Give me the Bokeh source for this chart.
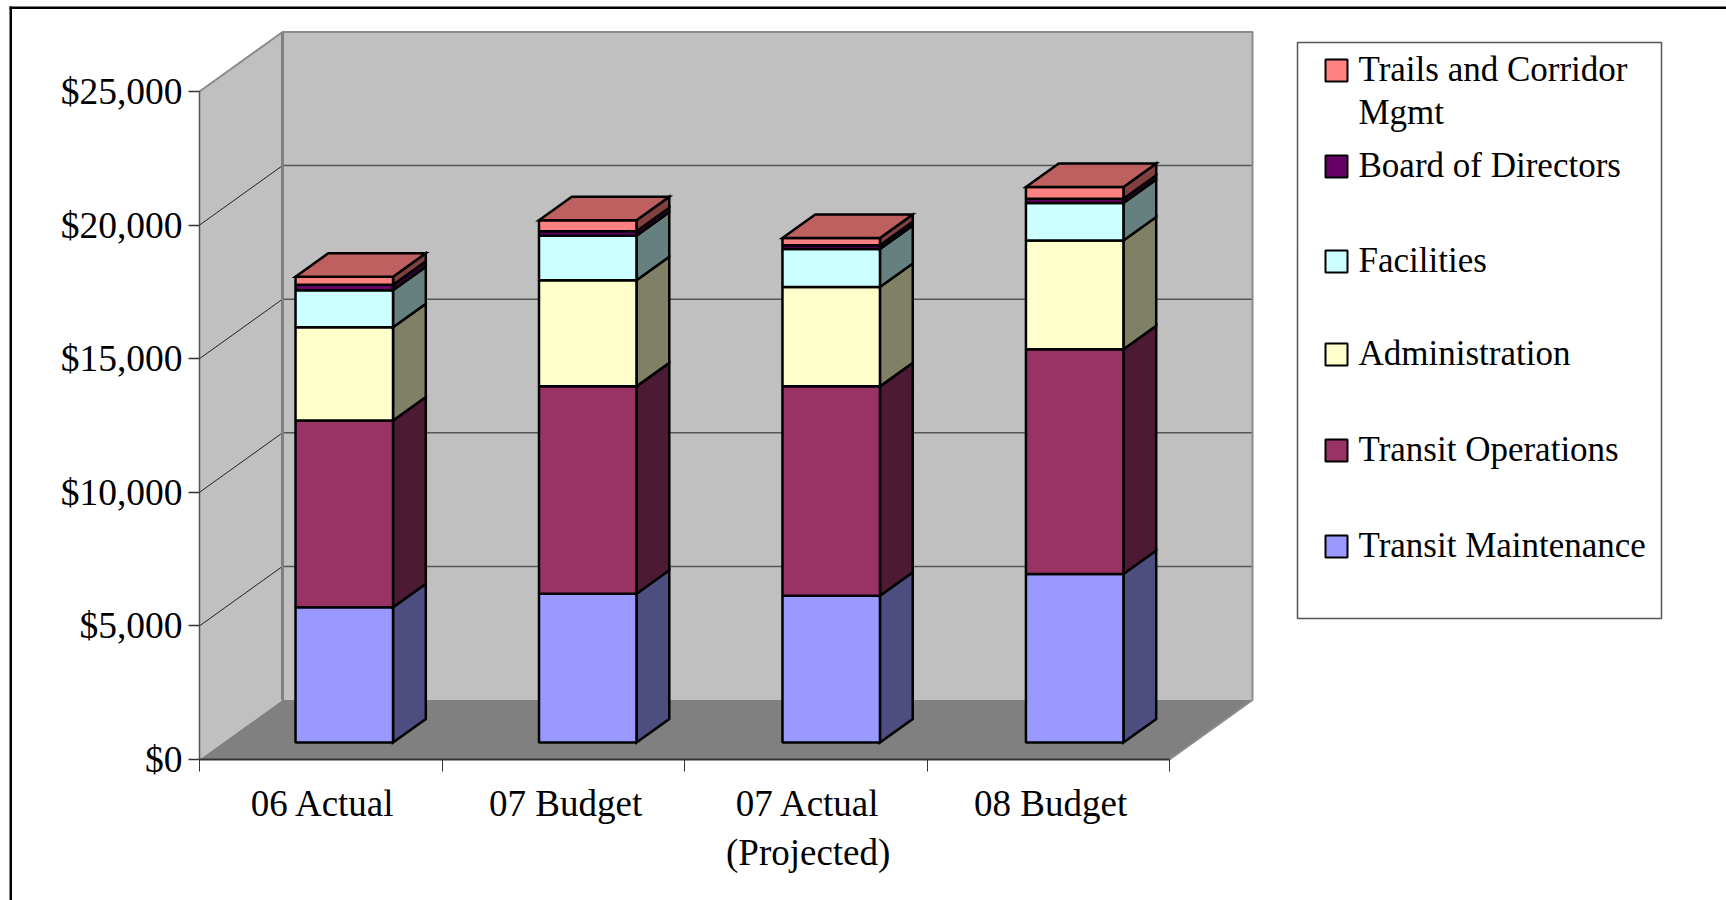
from bokeh.plotting import figure
from bokeh.models import Range1d, FixedTicker, NumeralTickFormatter, BoxAnnotation
from bokeh.core.properties import value
from bokeh.embed import file_html
from bokeh.resources import INLINE

categories = ["06 Actual", "07 Budget", "07 Actual\n(Projected)", "08 Budget"]
y_ticks = [0, 5000, 10000, 15000, 20000, 25000]

series_names = ["Transit Maintenance", "Transit Operations", "Administration",
                "Facilities", "Board of Directors", "Trails and Corridor\nMgmt"]
transit_maintenance = [5060, 5570, 5490, 6310]
transit_operations = [6990, 7760, 7840, 8410]
administration = [3490, 3970, 3720, 4070]
facilities = [1385, 1670, 1420, 1400]
board_of_directors = [210, 165, 140, 160]
trails_and_corridor = [300, 410, 270, 440]
series_values = [transit_maintenance, transit_operations, administration,
                 facilities, board_of_directors, trails_and_corridor]
front_colors = ["#9999FF", "#993366", "#FFFFCC", "#CCFFFF", "#660066", "#FF8080"]
side_colors = ["#4D4D80", "#4D1A33", "#808066", "#668080", "#330033", "#804040"]
top_color = "#BF6060"

# page geometry (px)
W, H = 1726, 900
X0, Y0 = 199, 759          # front-left corner of the chart's floor
CAT_PX = 242.5             # px per category
USD_PER_PX = 5000 / 133.6
DEPTH_X = 83 / CAT_PX      # full chart depth, in category units
DEPTH_Y = 59.5 * USD_PER_PX  # full chart depth, in dollars
WALL_RIGHT = 4 + DEPTH_X
WALL_TOP = 25000
BAR_LEFT, BAR_WIDTH, BAR_STEP = 0.396, 0.402, 1.004
D0, D1 = 0.285, 0.68       # bar's front and back, as a share of chart depth


def X(px):
    return (px - X0) / CAT_PX


def Y(py):
    return (Y0 - py) * USD_PER_PX


p = figure(width=W, height=H, output_backend="svg", toolbar_location=None,
           x_range=Range1d(X(0), X(W)), y_range=Range1d(Y(H), Y(0)),
           min_border=0, outline_line_color=None)
p.grid.visible = False

# walls and floor
p.patch([0, DEPTH_X, DEPTH_X, 0], [0, DEPTH_Y, WALL_TOP + DEPTH_Y, WALL_TOP],
        fill_color="#C0C0C0", line_color=None)
p.quad(left=DEPTH_X, right=WALL_RIGHT, bottom=DEPTH_Y, top=WALL_TOP + DEPTH_Y,
       fill_color="#C0C0C0", line_color=None)
p.patch([0, 4, WALL_RIGHT, DEPTH_X], [0, 0, DEPTH_Y, DEPTH_Y],
        fill_color="#808080", line_color=None)

# gridlines
grid = [t for t in y_ticks if t not in (0, WALL_TOP)]
p.multi_line([[DEPTH_X, WALL_RIGHT] for t in grid], [[t + DEPTH_Y, t + DEPTH_Y] for t in grid],
             line_color="#555555", line_width=1.5)
p.multi_line([[0, DEPTH_X] for t in grid], [[t, t + DEPTH_Y] for t in grid],
             line_color="#222222", line_width=1)
# wall edges
p.line([0, DEPTH_X, WALL_RIGHT, WALL_RIGHT, 4],
       [WALL_TOP, WALL_TOP + DEPTH_Y, WALL_TOP + DEPTH_Y, DEPTH_Y, 0],
       line_color="#8C8C8C", line_width=2)
p.line([DEPTH_X, DEPTH_X], [DEPTH_Y, WALL_TOP + DEPTH_Y], line_color="#808080", line_width=3)
p.line([0, 0], [0, WALL_TOP], line_color="#555555", line_width=1.5)

# stacked 3D bars
for i in range(len(categories)):
    base = 0
    xf = i * BAR_STEP + BAR_LEFT
    lo = D0 * DEPTH_Y
    hi = D1 * DEPTH_Y
    xr = xf + BAR_WIDTH
    dxb = (D1 - D0) * DEPTH_X
    for s, vals in enumerate(series_values):
        v0, v1 = base, base + vals[i]
        p.patch([xr, xr + dxb, xr + dxb, xr], [v0 + lo, v0 + hi, v1 + hi, v1 + lo],
                fill_color=side_colors[s], line_color="black", line_width=2.5, line_join="miter")
        p.quad(left=xf, right=xr, bottom=v0 + lo, top=v1 + lo,
               fill_color=front_colors[s], line_color="black", line_width=2.5)
        base = v1
    p.patch([xf, xr, xr + dxb, xf + dxb],
            [base + lo, base + lo, base + hi, base + hi],
            fill_color=top_color, line_color="black", line_width=2.5, line_join="miter")

# axes
ya = p.yaxis[0]
ya.fixed_location = 0
ya.ticker = FixedTicker(ticks=y_ticks)
ya.bounds = (0, WALL_TOP)
ya.formatter = NumeralTickFormatter(format="$0,0")
ya.major_label_text_font = "Liberation Serif"
ya.major_label_text_font_size = "37.5px"
ya.major_label_text_color = "black"
ya.major_tick_in = 0
ya.major_tick_out = 11
ya.major_tick_line_color = "#333333"
ya.major_tick_line_width = 1.5
ya.minor_tick_line_color = None
ya.axis_line_color = None
ya.major_label_standoff = 6

xa = p.xaxis[0]
xa.fixed_location = 0
xa.ticker = FixedTicker(ticks=[i + 0.51 for i in range(len(categories))],
                        minor_ticks=list(range(len(categories) + 1)))
xa.bounds = (0, len(categories))
xa.major_label_overrides = {i + 0.51: c for i, c in enumerate(categories)}
xa.major_label_text_font = "Liberation Serif"
xa.major_label_text_font_size = "37px"
xa.major_label_text_color = "black"
xa.major_tick_in = 0
xa.major_tick_out = 0
xa.minor_tick_in = 0
xa.minor_tick_out = 12
xa.minor_tick_line_color = "#333333"
xa.minor_tick_line_width = 1
xa.axis_line_color = "#333333"
xa.axis_line_width = 2
xa.major_label_standoff = 11

# legend
p.quad(left=X(1297), right=X(1661), bottom=Y(618), top=Y(42),
       fill_color="white", line_color="#555555", line_width=1.5)
row_py = [546, 450, 354, 261, 166, 70]
for s, name in enumerate(series_names):
    py = row_py[s]
    p.quad(left=X(1325), right=X(1347), bottom=Y(py + 11), top=Y(py - 11),
           fill_color=front_colors[s], line_color="black", line_width=2)
    p.text(x=[X(1358)], y=[Y(py - 21)], text=[name], text_font=value("Liberation Serif"),
           text_font_size="35px", text_color="black", text_baseline="top", text_line_height=1.11)

# the outer border: only its top and left sides fall inside the photograph
BORDER_LEFT, BORDER_TOP = 9, 6
p.add_layout(BoxAnnotation(left=BORDER_LEFT, right=BORDER_LEFT + 2.5, top=BORDER_TOP, bottom=H,
                           left_units="canvas", right_units="canvas", top_units="canvas", bottom_units="canvas",
                           fill_color="black", fill_alpha=1, line_color=None))
p.add_layout(BoxAnnotation(left=BORDER_LEFT, right=W, top=BORDER_TOP, bottom=BORDER_TOP + 2.5,
                           left_units="canvas", right_units="canvas", top_units="canvas", bottom_units="canvas",
                           fill_color="black", fill_alpha=1, line_color=None))

open("out.html", "w").write(file_html(p, INLINE))
